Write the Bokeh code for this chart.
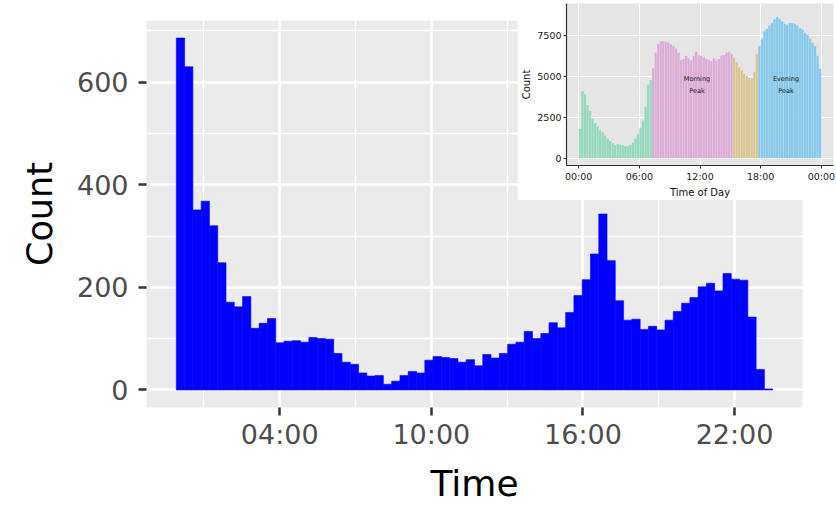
import numpy as np
from bokeh.plotting import figure
from bokeh.models import Range1d, FixedTicker
from bokeh.embed import file_html
from bokeh.resources import INLINE
from bokeh.core.properties import value

# ---------------- main histogram: trips per ~20-minute bin ----------------
bin_width_h = 0.3278          # width of one bin, in hours
first_edge_h = -0.093         # left edge of the first bin, in hours
counts = [
    686, 630, 351, 368, 320, 248, 171, 162, 182, 120, 130, 139,
    92, 95, 96, 93, 102, 100, 99, 71, 54, 50, 33, 27,
    28, 11, 17, 28, 36, 33, 58, 65, 63, 61, 54, 59,
    47, 69, 62, 71, 89, 93, 114, 100, 110, 131, 121, 151,
    184, 215, 265, 343, 252, 174, 136, 138, 118, 124, 117, 136,
    153, 169, 180, 201, 208, 193, 227, 216, 214, 142, 40, 2,
]
time_ticks = [4, 10, 16, 22]
time_minor = [1, 7, 13, 19]
time_tick_labels = ["04:00", "10:00", "16:00", "22:00"]
count_ticks = [0, 200, 400, 600]
count_minor = [100, 300, 500, 700]

# ---------------- inset: whole-day profile in 15-minute bins ----------------
inset_bin_h = 0.25
inset_counts = [
    # 00:00 - 07:15
    1800, 4100, 3900, 3250, 2900, 2400, 2150, 1950, 1720, 1580, 1400, 1200,
    1040, 920, 800, 860, 840, 800, 740, 720, 800, 940, 1200, 1460,
    1860, 2300, 3150, 4500, 4780,
    # 07:15 - 15:15
    5500, 6460, 6960, 7160, 7160, 7100, 7060, 6960, 6860, 6700, 6460, 6000,
    6060, 6260, 6100, 5960, 6260, 6500, 6300, 6260, 6160, 6060, 6000, 5940,
    6100, 5960, 6060, 6260, 6300, 6460, 6500, 6360,
    # 15:15 - 17:45
    6160, 5860, 5560, 5360, 5160, 5020, 4900, 4860, 5260, 6360,
    # 17:45 - 24:00
    6860, 7260, 7760, 7900, 8100, 8260, 8500, 8620, 8500, 8360, 8220, 8160,
    8260, 8260, 8220, 8100, 7960, 7860, 7660, 7560, 7300, 7060, 6860, 6260,
    5460,
]
period_ends_h = [7.25, 15.25, 17.75, 24.0]
period_colors = ["#93D8BB", "#DCABD4", "#D7C490", "#84C7EA"]
peak_labels = ["Morning\nPeak", "Evening\nPeak"]
peak_label_x = [11.7, 20.5]
peak_label_y = [4500, 4500]
inset_x_ticks = [0, 6, 12, 18, 24]
inset_x_labels = ["00:00", "06:00", "12:00", "18:00", "00:00"]
inset_y_ticks = [0, 2500, 5000, 7500]
inset_y_limits = (-450, 9450)

FONT = "DejaVu Sans"

# ---------------- main figure ----------------
edges = first_edge_h + bin_width_h * np.arange(len(counts) + 1)
span = edges[-1] - edges[0]
ymax = max(counts)

p = figure(
    width=836, height=506,
    x_range=Range1d(edges[0] - 0.05 * span, edges[-1] + 0.05 * span),
    y_range=Range1d(-0.05 * ymax, 1.05 * ymax),
    output_backend="svg", toolbar_location=None,
    min_border_left=146, min_border_right=34,
    min_border_top=20, min_border_bottom=97,
)
p.background_fill_color = "#EBEBEB"
p.border_fill_color = "white"
p.outline_line_color = None

p.quad(left=edges[:-1], right=edges[1:], bottom=0, top=counts,
       fill_color="#0000FF", line_color="#0000FF", line_width=0.6)

p.xaxis.ticker = FixedTicker(ticks=time_ticks, minor_ticks=time_minor)
p.xaxis.major_label_overrides = {t: lab for t, lab in zip(time_ticks, time_tick_labels)}
p.yaxis.ticker = FixedTicker(ticks=count_ticks, minor_ticks=count_minor)
p.xaxis.axis_label = "Time"
p.yaxis.axis_label = "Count"

for ax in (p.xaxis[0], p.yaxis[0]):
    ax.axis_line_color = None
    ax.major_tick_line_color = "#333333"
    ax.major_tick_line_width = 2.5
    ax.major_tick_in = 0
    ax.major_tick_out = 8
    ax.minor_tick_line_color = None
    ax.major_label_text_font = FONT
    ax.major_label_text_font_size = "27px"
    ax.major_label_text_color = "#4D4D4D"
    ax.axis_label_text_font = FONT
    ax.axis_label_text_font_style = "normal"
    ax.axis_label_text_color = "black"
p.xaxis.major_label_standoff = 3
p.xaxis.axis_label_standoff = 10
p.xaxis.axis_label_text_font_size = "36px"
p.yaxis.major_label_standoff = 10
p.yaxis.axis_label_standoff = 14
p.yaxis.axis_label_text_font_size = "35px"

for g in (p.xgrid[0], p.ygrid[0]):
    g.grid_line_color = "white"
    g.grid_line_width = 2.6
    g.minor_grid_line_color = "white"
    g.minor_grid_line_width = 1.4

# ---------------- inset figure ----------------
i_edges = inset_bin_h * np.arange(len(inset_counts) + 1)
i_centers = 0.5 * (i_edges[:-1] + i_edges[1:])
i_colors = [period_colors[int(np.searchsorted(period_ends_h, c))] for c in i_centers]

q = figure(
    width=319, height=200,
    x_range=Range1d(-0.05 * 24, 24 * 1.05),
    y_range=Range1d(*inset_y_limits),
    output_backend="svg", toolbar_location=None,
    min_border_left=49, min_border_right=3,
    min_border_top=3, min_border_bottom=32,
)
q.background_fill_color = "#E5E5E5"
q.border_fill_color = "white"
q.outline_line_color = None

q.quad(left=i_edges[:-1], right=i_edges[1:], bottom=0, top=inset_counts,
       fill_color=i_colors, line_color="white", line_width=0.4, line_alpha=0.35)
q.text(x=peak_label_x, y=peak_label_y, text=peak_labels,
       text_font=value(FONT), text_font_size="6.5px", text_color="#1A1A1A",
       text_align="center", text_baseline="middle", text_line_height=1.5)

q.xaxis.ticker = FixedTicker(ticks=inset_x_ticks)
q.xaxis.major_label_overrides = {t: lab for t, lab in zip(inset_x_ticks, inset_x_labels)}
q.yaxis.ticker = FixedTicker(ticks=inset_y_ticks)
q.xaxis.axis_label = "Time of Day"
q.yaxis.axis_label = "Count"
for ax in (q.xaxis[0], q.yaxis[0]):
    ax.axis_line_color = "#333333"
    ax.axis_line_width = 1.2
    ax.major_tick_line_color = "#333333"
    ax.major_tick_line_width = 1
    ax.major_tick_in = 0
    ax.major_tick_out = 3
    ax.minor_tick_line_color = None
    ax.major_label_text_font = FONT
    ax.major_label_text_font_size = "9.5px"
    ax.major_label_text_color = "#1A1A1A"
    ax.major_label_standoff = 2
    ax.axis_label_text_font = FONT
    ax.axis_label_text_font_style = "normal"
    ax.axis_label_text_font_size = "10px"
    ax.axis_label_text_color = "#111111"
    ax.axis_label_standoff = 2
for g in (q.xgrid[0], q.ygrid[0]):
    g.grid_line_color = "white"
    g.grid_line_width = 1

# the inset floats over the top-right corner of the main plot
q.styles = {"position": "absolute", "left": "517px", "top": "0px", "z-index": "10"}

open("out.html", "w").write(file_html([p, q], INLINE))
